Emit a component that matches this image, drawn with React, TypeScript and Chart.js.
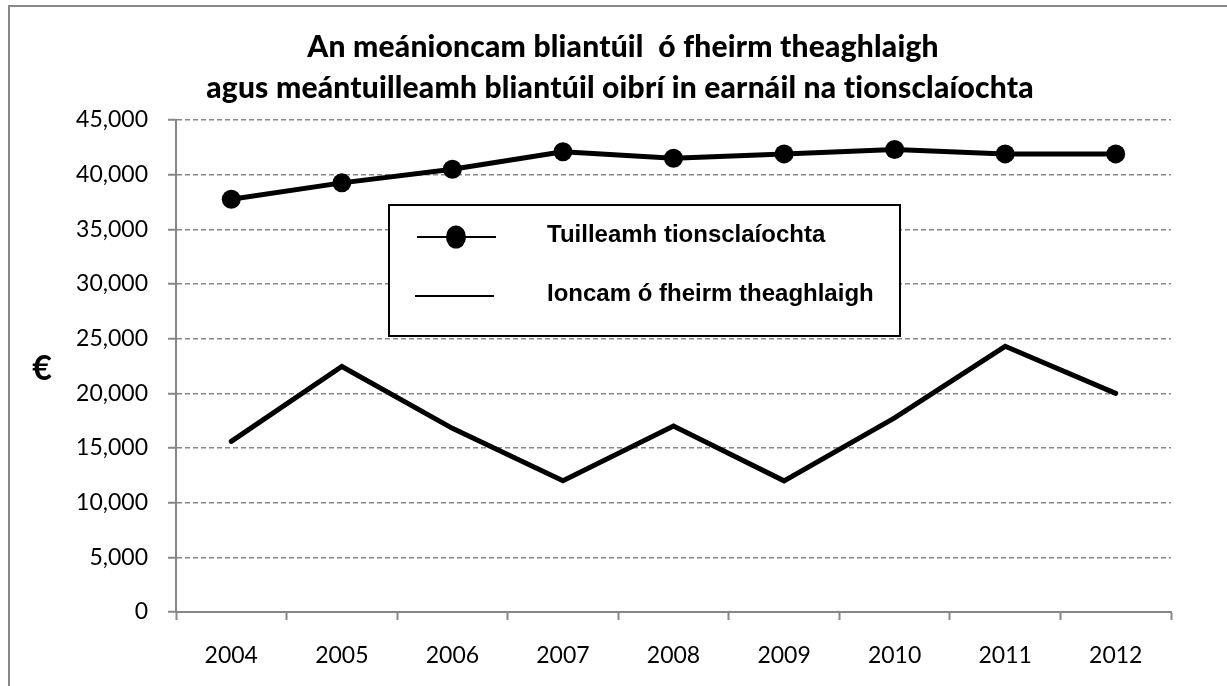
import React, { useEffect, useRef } from "react";
import { Chart, registerables } from "chart.js";

Chart.register(...registerables);

const years = ["2004", "2005", "2006", "2007", "2008", "2009", "2010", "2011", "2012"];
const industrialWages = [37750, 39250, 40500, 42100, 41500, 41900, 42300, 41900, 41900];
const farmIncome = [15600, 22450, 16800, 12000, 17000, 12000, 17750, 24300, 20000];
const titleLines = [
  "An meánioncam bliantúil  ó fheirm theaghlaigh",
  "agus meántuilleamh bliantúil oibrí in earnáil na tionsclaíochta",
];
const legendLabels = ["Tuilleamh tionsclaíochta", "Ioncam ó fheirm theaghlaigh"];
const yAxisLabel = "€";
const yMin = 0;
const yMax = 45000;
const yStep = 5000;

const W = 1227;
const H = 686;
const GRAY = "#878787";

const decor = {
  id: "decor",
  beforeDraw(chart: any) {
    const ctx = chart.ctx;
    ctx.save();
    ctx.fillStyle = "#ffffff";
    ctx.fillRect(0, 0, W, H);
    ctx.fillStyle = GRAY;
    ctx.fillRect(8, 5, 2, H);
    ctx.fillRect(8, 5, W, 2);
    ctx.restore();
  },
  afterDraw(chart: any) {
    const ctx = chart.ctx;
    ctx.save();
    // title
    ctx.fillStyle = "#000";
    ctx.textAlign = "center";
    ctx.textBaseline = "alphabetic";
    ctx.font = "900 30px Lato";
    try {
      (ctx as any).letterSpacing = "0.2px";
    } catch (e) {}
    ctx.fillText(titleLines[0], 623, 57);
    ctx.fillText(titleLines[1], 620, 98);
    try {
      (ctx as any).letterSpacing = "0px";
    } catch (e) {}
    // y axis label
    ctx.font = "bold 34px Lato";
    ctx.textAlign = "center";
    ctx.textBaseline = "middle";
    ctx.fillText(yAxisLabel, 42, 369);
    // legend box
    const bx = 389, by = 205, bw = 511, bh = 131;
    ctx.fillStyle = "#fff";
    ctx.fillRect(bx, by, bw, bh);
    ctx.strokeStyle = "#000";
    ctx.lineWidth = 2;
    ctx.strokeRect(bx, by, bw, bh);
    // entry 1
    ctx.lineWidth = 2;
    ctx.beginPath();
    ctx.moveTo(417, 237);
    ctx.lineTo(496, 237);
    ctx.stroke();
    ctx.fillStyle = "#000";
    ctx.beginPath();
    ctx.ellipse(456, 237, 10, 11.5, 0, 0, Math.PI * 2);
    ctx.fill();
    // entry 2
    ctx.beginPath();
    ctx.moveTo(415, 296);
    ctx.lineTo(494, 296);
    ctx.stroke();
    ctx.font = "bold 24px 'Liberation Sans'";
    ctx.textAlign = "left";
    ctx.textBaseline = "alphabetic";
    ctx.fillText(legendLabels[0], 547, 242);
    ctx.fillText(legendLabels[1], 547, 301);
    ctx.restore();
  },
};

export default function App() {
  const ref = useRef<HTMLCanvasElement | null>(null);
  useEffect(() => {
    if (!ref.current) return;
    const chart = new Chart(ref.current, {
      type: "line",
      data: {
        labels: years,
        datasets: [
          {
            label: legendLabels[0],
            data: industrialWages,
            borderColor: "#000",
            backgroundColor: "#000",
            borderWidth: 5,
            pointRadius: 9.5,
            pointHoverRadius: 9.5,
            pointBackgroundColor: "#000",
            pointBorderWidth: 0,
            borderJoinStyle: "round",
            tension: 0,
          },
          {
            label: legendLabels[1],
            data: farmIncome,
            borderColor: "#000",
            backgroundColor: "#000",
            borderWidth: 5,
            pointRadius: 0,
            pointHoverRadius: 0,
            borderJoinStyle: "miter",
            borderCapStyle: "round",
            tension: 0,
          },
        ],
      },
      options: {
        responsive: false,
        animation: false,
        devicePixelRatio: 1,
        layout: { padding: { left: 0, top: 120, right: 56, bottom: 0 } },
        plugins: {
          legend: { display: false },
          title: { display: false },
          tooltip: { enabled: false },
        },
        scales: {
          x: {
            offset: true,
            grid: {
              offset: true,
              drawOnChartArea: false,
              drawTicks: true,
              tickLength: 8,
              tickColor: GRAY,
              tickWidth: 2,
            },
            border: { display: true, color: GRAY, width: 2 },
            ticks: {
              color: "#000",
              font: { family: "Lato", size: 23 },
              padding: 22,
              maxRotation: 0,
            },
            afterFit(scale: any) {
              scale.height = H - 612;
            },
          },
          y: {
            min: yMin,
            max: yMax,
            grid: {
              color: GRAY,
              lineWidth: 1.5,
              drawTicks: true,
              tickLength: 8,
              tickColor: GRAY,
              tickWidth: 2,
              tickBorderDash: [],
            },
            border: { display: true, color: GRAY, width: 2, dash: [5, 3] },
            ticks: {
              stepSize: yStep,
              color: "#000",
              font: { family: "Lato", size: 23 },
              padding: 20,
              callback: (v: any) => Number(v).toLocaleString("en-US"),
            },
            afterFit(scale: any) {
              scale.width = 176;
            },
          },
        },
      },
      plugins: [decor],
    });
    return () => chart.destroy();
  }, []);
  return (
    <div style={{ position: "fixed", left: 0, top: 0, width: W, height: H, overflow: "hidden", background: "#fff" }}>
      <canvas ref={ref} width={W} height={H} style={{ display: "block" }} />
    </div>
  );
}
